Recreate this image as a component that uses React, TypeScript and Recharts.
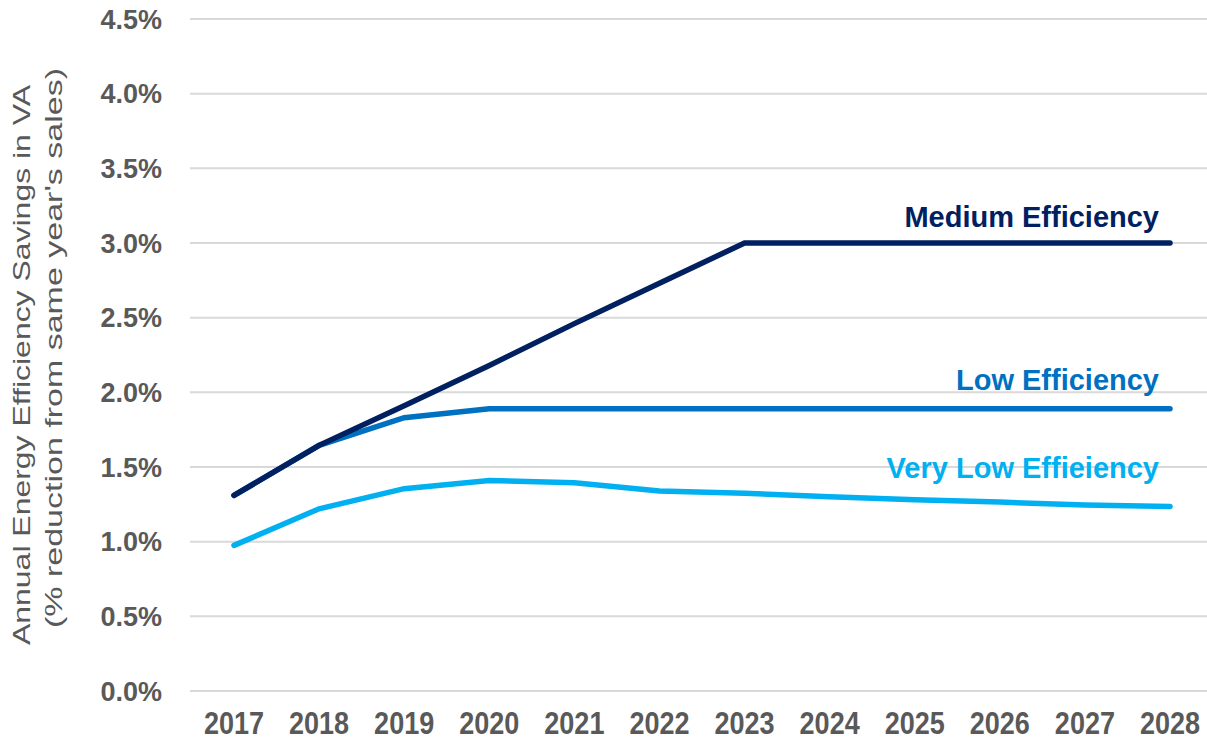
import React from 'react';
import { LineChart, Line, XAxis, YAxis, CartesianGrid } from 'recharts';

const years = ['2017', '2018', '2019', '2020', '2021', '2022', '2023', '2024', '2025', '2026', '2027', '2028'];
const medium = [1.31, 1.645, 1.91, 2.18, 2.46, 2.73, 3.0, 3.0, 3.0, 3.0, 3.0, 3.0];
const low = [1.31, 1.645, 1.83, 1.89, 1.89, 1.89, 1.89, 1.89, 1.89, 1.89, 1.89, 1.89];
const veryLow = [0.975, 1.22, 1.355, 1.41, 1.395, 1.34, 1.325, 1.3, 1.28, 1.265, 1.245, 1.235];
const yTicks = [0, 0.5, 1, 1.5, 2, 2.5, 3, 3.5, 4, 4.5];

const data = years.map((year, i) => ({
  year,
  medium: medium[i],
  low: low[i],
  veryLow: veryLow[i],
}));

const GRAY = '#595959';
const SANS = "'Liberation Sans', Arial, sans-serif";

// draws the series name above the last point only
const endLabel = (text: string, color: string, dy: number) => (props: any) => {
  const { x, y, index } = props;
  if (index !== years.length - 1) return null;
  return (
    <text x={x - 11} y={y + dy} textAnchor="end" fill={color} fontSize={29} fontWeight="bold" fontFamily={SANS}>
      {text}
    </text>
  );
};

// year labels are tall and condensed in the original
const YearTick = (props: any) => {
  const { x, y, payload } = props;
  return (
    <text
      transform={`translate(${x}, ${y + 25}) scale(0.845, 1)`}
      textAnchor="middle"
      fill={GRAY}
      fontSize={32}
      fontWeight="bold"
      fontFamily={SANS}
    >
      {payload.value}
    </text>
  );
};

const YTitle = () => (
  <g fill={GRAY} fontSize={24} fontFamily={SANS}>
    <text
      transform="translate(30, 365) rotate(-90)"
      textAnchor="middle"
      textLength={560}
      lengthAdjust="spacingAndGlyphs"
    >
      Annual Energy Efficiency Savings in VA
    </text>
    <text
      transform="translate(62, 348) rotate(-90)"
      textAnchor="middle"
      textLength={560}
      lengthAdjust="spacingAndGlyphs"
    >
      (% reduction from same year's sales)
    </text>
  </g>
);

export default function App() {
  return (
    <div style={{ position: 'absolute', left: 0, top: 0, background: '#fff' }}>
      <LineChart width={1207} height={740} data={data} margin={{ top: 19, right: 0, bottom: 0, left: 0 }}>
        <CartesianGrid vertical={false} stroke="#d9d9d9" strokeWidth={2} />
        <XAxis
          dataKey="year"
          scale="point"
          padding={{ left: 44, right: 37 }}
          height={49}
          axisLine={{ stroke: '#d9d9d9', strokeWidth: 2 }}
          tickLine={false}
          tickMargin={12}
          tick={<YearTick />}
        />
        <YAxis
          domain={[0, 4.5]}
          ticks={yTicks}
          width={190}
          axisLine={false}
          tickLine={false}
          tickMargin={22}
          tickFormatter={(v: number) => `${v.toFixed(1)}%`}
          tick={{ fill: GRAY, fontSize: 27, fontWeight: 'bold', fontFamily: SANS }}
          label={<YTitle />}
        />
        <Line
          dataKey="veryLow"
          stroke="#00b0f0"
          strokeWidth={5.5}
          dot={false}
          strokeLinecap="round"
          isAnimationActive={false}
          label={endLabel('Very Low Effieiency', '#00b0f0', -29)}
        />
        <Line
          dataKey="low"
          stroke="#0070c0"
          strokeWidth={5.5}
          dot={false}
          strokeLinecap="round"
          isAnimationActive={false}
          label={endLabel('Low Efficiency', '#0070c0', -19)}
        />
        <Line
          dataKey="medium"
          stroke="#002060"
          strokeWidth={5.5}
          dot={false}
          strokeLinecap="round"
          isAnimationActive={false}
          label={endLabel('Medium Efficiency', '#002060', -16)}
        />
      </LineChart>
    </div>
  );
}
